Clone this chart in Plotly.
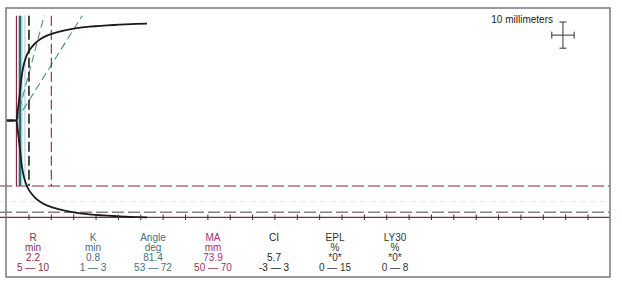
import plotly.graph_objects as go

# ---- data ----
# TEG tracing: time (min) vs total amplitude (mm)
trace_time = [0.0, 2.2, 2.4, 2.6, 2.8, 3.0, 3.3, 3.7, 4.2, 4.8, 5.5, 6.4, 7.5, 9.0, 10.4, 13.0, 15.7, 18.5, 21.0, 24.0, 26.5, 29.0, 31.4]
trace_amp = [0.0, 0.0, 5.0, 10.5, 16.0, 22.0, 32.0, 40.5, 47.0, 52.0, 55.5, 59.0, 62.0, 64.8, 66.5, 68.8, 70.5, 71.6, 72.3, 72.9, 73.4, 73.7, 73.9]

R_value = 2.2          # min
K_value = 0.8          # min
R_normal = [5, 10]     # min
MA_value = 73.9        # mm
MA_normal = [50, 70]   # mm
faint_amp = 62         # mm (faint guide)
ref_light_times = [2.77, 3.44, 4.11]   # light teal guides
angle_end_times = [8.4, 16.9]          # angle guide lines reach the top at these times
guide_top = 40.0       # half-amplitude (mm) where guides stop at top
tick_times = list(range(5, 131, 5))

scale_center_t = 124.4
scale_center_a = 32.6
scale_t_len = 5.0      # 10 mm horizontally (5 min)
scale_a_len = 10.0     # 10 mm vertically

param_names = ["R", "K", "Angle", "MA", "CI", "EPL", "LY30"]
param_units = ["min", "min", "deg", "mm", "", "%", "%"]
param_values = ["2.2", "0.8", "81.4", "73.9", "5.7", "*0*", "*0*"]
param_ranges = ["5 \u2014 10", "1 \u2014 3", "53 \u2014 72", "50 \u2014 70", "-3 \u2014 3", "0 \u2014 15", "0 \u2014 8"]
param_colors = ["#8a2c48", "#3f6e6e", "#3f7282", "#a2306e", "#222222", "#333333", "#333333"]
col_px = [33, 93, 153, 213, 274, 335, 395]
row_px = [238, 248, 258, 268]

W, H = 622, 284
X_RANGE = [-1.476, 137.6]
Y_RANGE = [-62.4, 46.0]
RIGHT_T = 134.9
PX_PER_T = W / (X_RANGE[1] - X_RANGE[0])
PX_PER_A = H / (Y_RANGE[1] - Y_RANGE[0])

def px_to_t(px):
    return X_RANGE[0] + px / PX_PER_T

def py_to_a(py):
    return Y_RANGE[1] - py / PX_PER_A

MAROON = "#8b2442"
TEAL = "#2e6d70"
FONT = "Liberation Sans, Arial"

fig = go.Figure()

def vline(t, color, width, dash="solid"):
    fig.add_trace(go.Scatter(x=[t, t], y=[guide_top, -MA_normal[0] / 2], mode="lines",
                             line=dict(color=color, width=width, dash=dash),
                             hoverinfo="skip", showlegend=False))

def hline(a, color, width, dash="solid", t0=X_RANGE[0]):
    fig.add_trace(go.Scatter(x=[t0, RIGHT_T], y=[a, a], mode="lines",
                             line=dict(color=color, width=width, dash=dash),
                             hoverinfo="skip", showlegend=False))

# faint guide
hline(-faint_amp / 2, "#dde8ee", 1, "6px,4px")
# horizontal MA lines
hline(-MA_normal[0] / 2, MAROON, 1.2, "12px,4px")
hline(-MA_normal[1] / 2, "#8f7d8c", 1.4, "12px,4px")
hline(-MA_value / 2, MAROON, 1.2)

# light teal guides
for t in ref_light_times:
    vline(t, "#a6cdd0", 1)

# angle guides
for te in angle_end_times:
    fig.add_trace(go.Scatter(x=[R_value, te], y=[0, guide_top], mode="lines",
                             line=dict(color="#4f8c95", width=1.1, dash="8px,4px"),
                             hoverinfo="skip", showlegend=False))

# vertical lines
vline(R_value, MAROON, 1.2)
vline(R_value + K_value, TEAL, 2.4)
vline(R_normal[0], "#222222", 1.6, "10px,4px")
vline(R_normal[1], MAROON, 1.1, "10px,4px")

# TEG tracing (both halves)
upper = [a / 2 for a in trace_amp]
lower = [-a / 2 for a in trace_amp]
for ys in (upper, lower):
    fig.add_trace(go.Scatter(x=trace_time, y=ys, mode="lines",
                             line=dict(color="#1b1b1b", width=1.8, shape="spline", smoothing=0.4),
                             hoverinfo="skip", showlegend=False))

# ticks on MA line
fig.add_trace(go.Scatter(x=tick_times, y=[-MA_value / 2] * len(tick_times), mode="markers",
                         marker=dict(symbol="line-ns", size=4, line=dict(color="#333333", width=1)),
                         hoverinfo="skip", showlegend=False))

# 10 mm scale cross
ct, ca = scale_center_t, scale_center_a
fig.add_trace(go.Scatter(x=[ct - scale_t_len / 2, ct + scale_t_len / 2], y=[ca, ca], mode="lines+markers",
                         line=dict(color="#333333", width=1),
                         marker=dict(symbol="line-ns", size=5, line=dict(color="#333333", width=1)),
                         hoverinfo="skip", showlegend=False))
fig.add_trace(go.Scatter(x=[ct, ct], y=[ca - scale_a_len / 2, ca + scale_a_len / 2], mode="lines+markers",
                         line=dict(color="#333333", width=1),
                         marker=dict(symbol="line-ew", size=5, line=dict(color="#333333", width=1)),
                         hoverinfo="skip", showlegend=False))

# scale label
fig.add_trace(go.Scatter(x=[px_to_t(553)], y=[py_to_a(20)], mode="text", text=["10 millimeters"],
                         textposition="middle left", textfont=dict(family=FONT, size=10, color="#222222"),
                         hoverinfo="skip", showlegend=False))

# parameter table
rows = [param_names, param_units, param_values, param_ranges]
for r, row in enumerate(rows):
    xs, ys, ts, cs = [], [], [], []
    for i, txt in enumerate(row):
        if not txt:
            continue
        xs.append(px_to_t(col_px[i]))
        ys.append(py_to_a(row_px[r]))
        ts.append(txt)
        cs.append(param_colors[i])
    fig.add_trace(go.Scatter(x=xs, y=ys, mode="text", text=ts, textposition="middle center",
                             textfont=dict(family=FONT, size=10, color=cs),
                             hoverinfo="skip", showlegend=False, cliponaxis=False))

fig.update_layout(
    width=W, height=H, margin=dict(l=0, r=0, t=0, b=0),
    paper_bgcolor="white", plot_bgcolor="white",
    xaxis=dict(range=X_RANGE, visible=False, fixedrange=True),
    yaxis=dict(range=Y_RANGE, visible=False, fixedrange=True),
    showlegend=False,
    shapes=[dict(type="rect", xref="paper", yref="paper",
                 x0=6 / W, x1=610 / W, y0=1 - 277 / H, y1=1 - 8 / H,
                 line=dict(color="#7a7a7a", width=1.5), layer="above")],
)

fig.write_html("out.html")
